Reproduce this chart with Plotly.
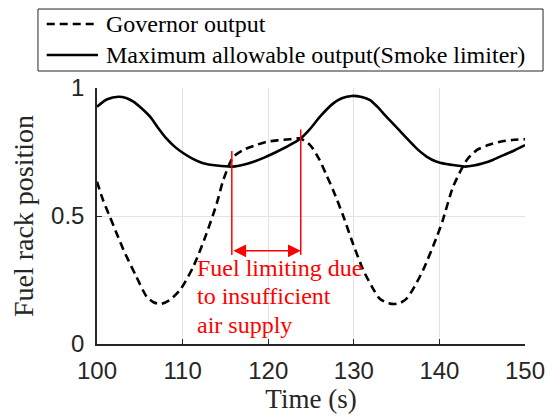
import plotly.graph_objects as go

# Governor output (dashed)
time_gov = [100, 100.7, 101.5, 102.3, 103.1, 104.6, 105.8, 106.6, 107.4, 108.5, 109.7, 111.25, 112.8, 114.0,
            114.75, 115.9, 117.1, 118.5, 119.8, 121.2, 122.5, 123.7, 124.9, 126.0, 126.8, 127.6, 128.8,
            129.75, 131.1, 132.1, 133.0, 134.0, 134.7, 135.4, 136.2, 137.1, 138.1, 139.7, 140.4, 141.6,
            143.2, 144.4, 145.8, 147.1, 148.5, 150]
governor = [0.634, 0.5625, 0.497, 0.432, 0.367, 0.263, 0.185, 0.163, 0.156, 0.172, 0.211, 0.302, 0.432, 0.55,
            0.64, 0.73, 0.758, 0.776, 0.79, 0.796, 0.80, 0.803, 0.777, 0.719, 0.66, 0.60, 0.497,
            0.406, 0.289, 0.225, 0.178, 0.160, 0.156, 0.160, 0.178, 0.225, 0.289, 0.419, 0.484, 0.614,
            0.719, 0.758, 0.778, 0.79, 0.797, 0.80]

# Maximum allowable output (smoke limiter, solid)
time_max = [100, 101.2, 102.5, 103.4, 104.25, 105.2, 106.2, 107.1, 108.1, 109.1, 110.1, 111.2, 112.4, 114.0,
            115.9, 117.1, 118.3, 119.6, 121, 122.4, 123.8, 124.9, 126.05, 127.6, 128.6, 129.75, 130.8,
            131.9, 132.8, 133.8, 135.0, 136.2, 137.3, 138.5, 139.6, 140.8, 142.0, 143, 144.0, 145.1,
            146.3, 147.5, 148.8, 150]
max_allow = [0.927, 0.956, 0.966, 0.961, 0.947, 0.921, 0.888, 0.846, 0.803, 0.770, 0.745, 0.723, 0.706, 0.697,
             0.693, 0.700, 0.712, 0.729, 0.751, 0.775, 0.803, 0.840, 0.888, 0.94, 0.960, 0.969, 0.966,
             0.953, 0.925, 0.888, 0.846, 0.803, 0.765, 0.732, 0.713, 0.703, 0.697, 0.693, 0.697, 0.706,
             0.720, 0.738, 0.757, 0.777]

# Annotation: limiting interval
limit_start, limit_end = 115.75, 123.8
limit_start_top, limit_end_top = 0.754, 0.838
limit_bottom = 0.348
arrow_y = 0.364
note_lines = ["Fuel limiting due", "to insufficient", "air supply"]
note_x = 111.5
note_y = [0.298, 0.187, 0.075]

legend_names = ["Governor output", "Maximum allowable output(Smoke limiter)"]

x_ticks = [100, 110, 120, 130, 140, 150]
y_ticks = [0, 0.5, 1]
y_tick_text = ["0", "0.5", "1"]

RED = "#ff0000"
AX = "#262626"
SERIF = "Liberation Serif, Times New Roman, serif"
SANS = "Liberation Sans, Arial, sans-serif"
DASH = "8px,5px"

fig = go.Figure()
fig.add_trace(go.Scatter(x=time_gov, y=governor, mode="lines", name=legend_names[0],
                         line=dict(color="black", width=2.6, dash=DASH, shape="spline", smoothing=0.7)))
fig.add_trace(go.Scatter(x=time_max, y=max_allow, mode="lines", name=legend_names[1],
                         line=dict(color="black", width=2.6, shape="spline", smoothing=0.7)))

# red vertical markers
fig.add_trace(go.Scatter(x=[limit_start, limit_start], y=[limit_bottom, limit_start_top], mode="lines",
                         line=dict(color=RED, width=1.5), hoverinfo="skip"))
fig.add_trace(go.Scatter(x=[limit_end, limit_end], y=[limit_bottom, limit_end_top], mode="lines",
                         line=dict(color=RED, width=1.5), hoverinfo="skip"))

fig.add_annotation(x=limit_end, y=arrow_y, ax=limit_start, ay=arrow_y, axref="x", ayref="y",
                   xref="x", yref="y", text="", showarrow=True, arrowside="end+start",
                   arrowhead=2, arrowsize=1.7, arrowwidth=1.5, arrowcolor=RED, standoff=0, startstandoff=0)

for txt, yy in zip(note_lines, note_y):
    fig.add_annotation(x=note_x, y=yy, xref="x", yref="y", text=txt, showarrow=False,
                       xanchor="left", yanchor="middle",
                       font=dict(family=SERIF, size=24, color=RED))

# Legend box (drawn in paper coordinates above the axes)
fig.add_shape(type="rect", xref="paper", yref="paper", x0=-0.1379, x1=1.0421, y0=1.0664, y1=1.3085,
              line=dict(color=AX, width=1), fillcolor="white", layer="above")
legend_rows = [1.2500, 1.1289]
legend_dash = [DASH, "solid"]
for name, yy, dsh in zip(legend_names, legend_rows, legend_dash):
    fig.add_shape(type="line", xref="paper", yref="paper", x0=-0.1175, x1=0.0023, y0=yy, y1=yy,
                  line=dict(color="black", width=2.6, dash=dsh), layer="above")
    fig.add_annotation(x=0.016, y=yy, xref="paper", yref="paper", text=name, showarrow=False,
                       xanchor="left", yanchor="middle",
                       font=dict(family=SERIF, size=24, color="black"))

# The page body has an 8px margin, so the figure is sized/margined to place the axes exactly.
fig.update_layout(
    width=545, height=410,
    margin=dict(l=89, r=28, t=80, b=74),
    paper_bgcolor="white", plot_bgcolor="white",
    showlegend=False,
    xaxis=dict(range=[100, 150], tickvals=x_ticks, ticks="inside", ticklen=5, tickcolor=AX,
               showline=True, linecolor=AX, linewidth=1.5, showgrid=True, gridcolor="#e3e3e3",
               gridwidth=1, zeroline=False, tickfont=dict(family=SANS, size=24, color=AX),
               ticklabelstandoff=4, automargin=False,
               title=dict(text="Time (s)", font=dict(family=SERIF, size=27, color=AX), standoff=2)),
    yaxis=dict(range=[0, 1], tickvals=y_ticks, ticktext=y_tick_text, ticks="inside", ticklen=5,
               tickcolor=AX, showline=True, linecolor=AX, linewidth=1.5, showgrid=True,
               gridcolor="#e3e3e3", gridwidth=1, zeroline=False,
               tickfont=dict(family=SANS, size=24, color=AX), ticklabelstandoff=6, automargin=False,
               title=dict(text="Fuel rack position", font=dict(family=SERIF, size=28, color=AX),
                          standoff=9)),
)

fig.write_html("out.html")
